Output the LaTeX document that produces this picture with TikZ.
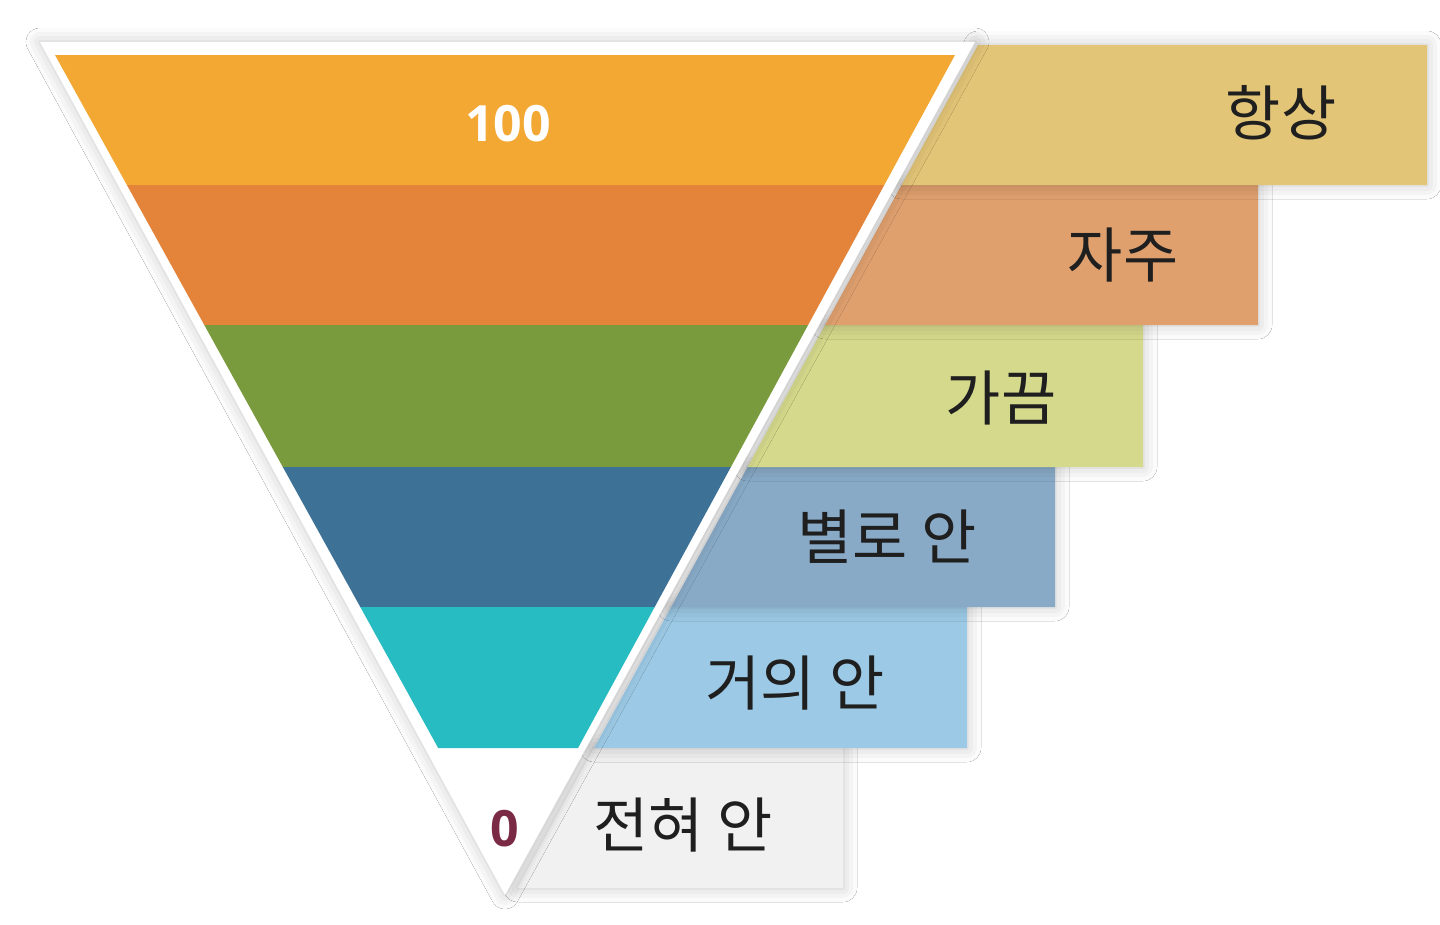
\documentclass[tikz,border=0pt]{standalone}
\usepackage{fontspec}
\newfontfamily\kr{Noto Sans CJK KR}
\newfontfamily\numfont{Open Sans}
\usetikzlibrary{shadows.blur}
\definecolor{cA}{HTML}{F2A833}
\definecolor{cB}{HTML}{E3843A}
\definecolor{cC}{HTML}{7A9A3E}
\definecolor{cD}{HTML}{3D7296}
\definecolor{cE}{HTML}{27BCC1}
\definecolor{lA}{HTML}{E3C577}
\definecolor{lB}{HTML}{DFA06E}
\definecolor{lC}{HTML}{D5D98B}
\definecolor{lD}{HTML}{88AAC7}
\definecolor{lE}{HTML}{9CC9E5}
\definecolor{lF}{HTML}{F1F1F1}
\definecolor{txt}{HTML}{1F1F1F}
\definecolor{zero}{HTML}{7A2A45}
\begin{document}
\begin{tikzpicture}[x=1pt,y=-1pt,
  soft/.style={blur shadow={shadow xshift=0pt,shadow yshift=0pt,shadow blur radius=14pt,shadow opacity=22}},
  lab/.style={font=\kr\fontsize{60}{68}\selectfont,text=txt,inner sep=0pt,anchor=center},
  num/.style={font=\numfont\bfseries\fontsize{50}{60}\selectfont,inner sep=0pt},
]
\useasboundingbox[fill=white] (0,0) rectangle (1440,924);
% label boxes (bottom to top)
\fill[lF,soft] (594.2,748) -- (843,748) -- (843,888) -- (517.7,888) -- cycle;
\fill[lE,soft] (671.1,607) -- (967,607) -- (967,748) -- (594.2,748) -- cycle;
\fill[lD,soft] (747.6,467) -- (1055,467) -- (1055,607) -- (671.1,607) -- cycle;
\fill[lC,soft] (825.1,325) -- (1143,325) -- (1143,467) -- (747.6,467) -- cycle;
\fill[lB,soft] (901.6,185) -- (1258,185) -- (1258,325) -- (825.1,325) -- cycle;
\fill[lA,soft] (978,45) -- (1427,45) -- (1427,185) -- (901.6,185) -- cycle;
% outer white triangle
\fill[white,soft] (40,42) -- (975,42) -- (505,895) -- cycle;
% bands
\fill[cA] (55,55) -- (955,55) -- (884.3,185) -- (126.9,185) -- cycle;
\fill[cB] (126.9,185) -- (884.3,185) -- (808.1,325) -- (204.3,325) -- cycle;
\fill[cC] (204.3,325) -- (808.1,325) -- (730.9,467) -- (282.8,467) -- cycle;
\fill[cD] (282.8,467) -- (730.9,467) -- (654.7,607) -- (360.3,607) -- cycle;
\fill[cE] (360.3,607) -- (654.7,607) -- (578,748) -- (438.2,748) -- cycle;
% texts
\node[num,text=white] (n100) at (508,124) {100};
\node[num,text=zero] (n0) at (505,829) {0};
\node[lab] (t1) at (1281,113) {항상};
\node[lab] (t2) at (1123,255) {자주};
\node[lab] (t3) at (1001,398) {가끔};
\node[lab] (t4) at (887,537) {별로 안};
\node[lab] (t5) at (795,683) {거의 안};
\node[lab] (t6) at (683,825) {전혀 안};
\end{tikzpicture}
\end{document}
